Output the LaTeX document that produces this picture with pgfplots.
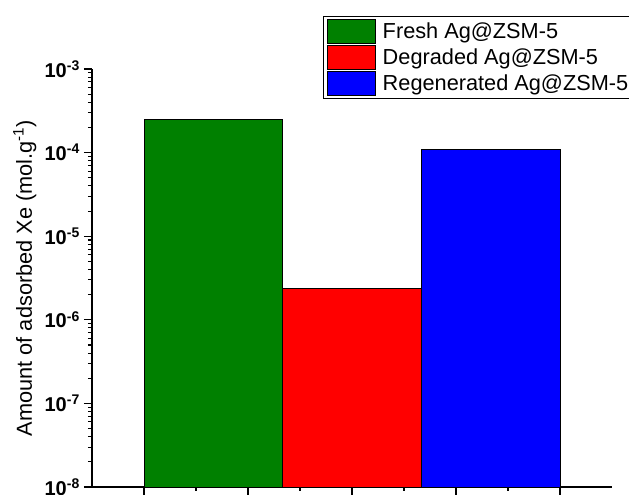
\documentclass[border=0pt]{standalone}
\usepackage{fontspec}
\setmainfont{Liberation Sans}
\usepackage{pgfplots}
\pgfplotsset{compat=1.18}
\definecolor{cgreen}{RGB}{0,128,0}
\definecolor{cred}{RGB}{255,0,0}
\definecolor{cblue}{RGB}{0,0,255}
\newcommand{\expo}[1]{\textbf{10}\raisebox{5pt}{\fontsize{10.5}{12}\selectfont\bfseries #1}}
\begin{document}
\begin{tikzpicture}
\begin{axis}[
  at={(0,0)}, anchor=south west,
  scale only axis, width=390pt, height=313.5pt,
  ymode=log, log origin=infty,
  ymin=1e-8, ymax=1e-3,
  xmin=-0.5, xmax=4.5,
  axis x line*=bottom, axis y line*=left,
  axis line style={line width=1pt},
  tick align=outside,
  xtick={0,1,2,3,4}, xticklabels={},
  minor x tick num=1,
  ytick={1e-8,1e-7,1e-6,1e-5,1e-4,1e-3},
  yticklabels={\expo{-8},\expo{-7},\expo{-6},\expo{-5},\expo{-4},\expo{-3}},
  minor ytick={2e-8,3e-8,4e-8,5e-8,6e-8,7e-8,8e-8,9e-8,
               2e-7,3e-7,4e-7,5e-7,6e-7,7e-7,8e-7,9e-7,
               2e-6,3e-6,4e-6,5e-6,6e-6,7e-6,8e-6,9e-6,
               2e-5,3e-5,4e-5,5e-5,6e-5,7e-5,8e-5,9e-5,
               2e-4,3e-4,4e-4,5e-4,6e-4,7e-4,8e-4,9e-4},
  major tick length=6pt, minor tick length=3pt,
  every tick/.style={black, line width=0.8pt},
  yticklabel style={font=\fontsize{15}{18}\selectfont\bfseries},
  ylabel={Amount of adsorbed Xe (mol.g\textsuperscript{-1})},
  ylabel style={font=\fontsize{16.3}{19}\selectfont, at={(axis description cs:-0.1154,0.5)}, anchor=base},
  legend style={at={(axis description cs:0.444,1.127)}, anchor=north west,
    draw=black, line width=0.6pt, inner xsep=3pt, inner ysep=2pt,
    row sep=1pt, column sep=4.5pt, font=\fontsize{16.3}{19}\selectfont,
    nodes={inner sep=0.5pt}, cells={anchor=base west}},
  legend image code/.code={\draw[#1] (0pt,-3.5pt) rectangle (36pt,14.5pt);},
]
\addplot[ybar, bar width=1.33333, bar shift=0pt, fill=cgreen, draw=black, line width=0.6pt] coordinates {(0.666667,2.52e-4)};
\addlegendentry{Fresh Ag@ZSM-5}
\addplot[ybar, bar width=1.33333, bar shift=0pt, fill=cred, draw=black, line width=0.6pt] coordinates {(2,2.38e-6)};
\addlegendentry{Degraded Ag@ZSM-5}
\addplot[ybar, bar width=1.33333, bar shift=0pt, fill=cblue, draw=black, line width=0.6pt] coordinates {(3.333333,1.10e-4)};
\addlegendentry{Regenerated Ag@ZSM-5\hspace*{8pt}}
\end{axis}
\pgfresetboundingbox
\path[use as bounding box] (-69pt,-6pt) rectangle (402.75pt,365.25pt);
\end{tikzpicture}
\end{document}
